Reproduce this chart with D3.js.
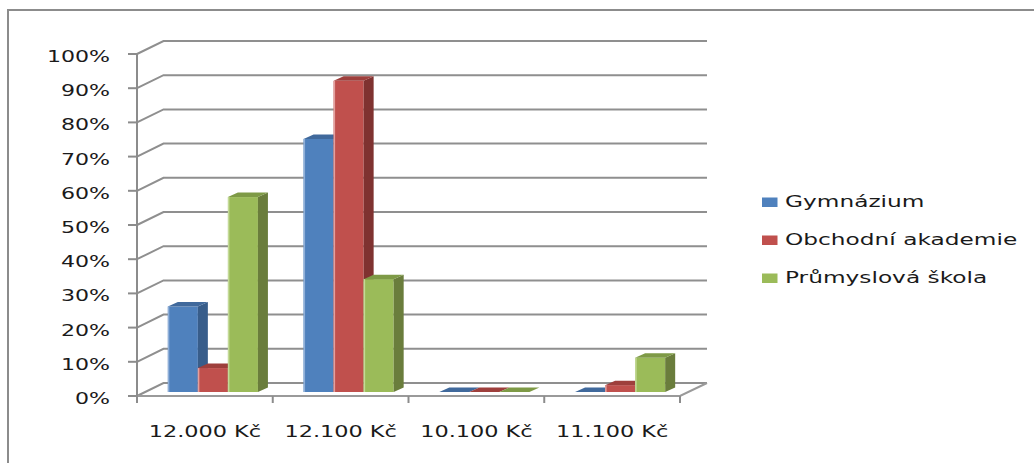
<!DOCTYPE html>
<html>
<head>
<meta charset="utf-8">
<script src="https://cdn.jsdelivr.net/npm/d3@7"></script>
<style>
  html, body { margin: 0; padding: 0; background: #fff; }
  svg { display: block; }
  text { font-family: "DejaVu Sans", sans-serif; fill: #1a1a1a; }
</style>
</head>
<body>
<svg id="chart" width="1034" height="463"></svg>
<script>
// Salary categories and the share of graduates per school type
const categories = ["12.000 Kč", "12.100 Kč", "10.100 Kč", "11.100 Kč"];
const seriesNames = ["Gymnázium", "Obchodní akademie", "Průmyslová škola"];
const gymnazium = [0.25, 0.74, 0, 0];
const obchodni = [0.07, 0.91, 0, 0.02];
const prumyslova = [0.57, 0.33, 0, 0.10];
const yTicks = [0, 0.1, 0.2, 0.3, 0.4, 0.5, 0.6, 0.7, 0.8, 0.9, 1.0];

const seriesValues = [gymnazium, obchodni, prumyslova];
const colors = {
  front: ["#4F81BD", "#C0504D", "#9BBB59"],
  side:  ["#385D8A", "#7F3230", "#6A7D3C"],
  top:   ["#40699C", "#9E3F3C", "#7E9A46"],
  edge:  ["#8FAFD8", "#E3A09E", "#C4DA98"]
};

const svg = d3.select("#chart");

// Frame of the chart area (top and left edges)
svg.append("path")
  .attr("d", "M8,463 L8,10 L1034,10")
  .attr("fill", "none")
  .attr("stroke", "#8c8c8c")
  .attr("stroke-width", 2);

// Front plane geometry and perspective offset toward the back wall
const frontLeft = 137, frontRight = 680;
const yScale = d3.scaleLinear().domain([0, 1]).range([396, 54]);
const wallDx = 26.5, wallDy = -13;
const backRight = 707;

const xCat = d3.scaleBand().domain(categories).range([frontLeft, frontRight]).padding(0);
const xSer = d3.scaleBand().domain(seriesNames).range([0, xCat.bandwidth()])
  .paddingInner(0).paddingOuter(0.76);

const grid = svg.append("g");
// Gridlines: side wall diagonal + back wall horizontal
yTicks.forEach(t => {
  const y = yScale(t);
  grid.append("path")
    .attr("d", `M${frontLeft},${y} L${frontLeft + wallDx},${y + wallDy} L${backRight},${y + wallDy}`)
    .attr("fill", "none")
    .attr("stroke", "#8f8f8f")
    .attr("stroke-width", 2);
});

// Floor front edge and its right-hand diagonal
grid.append("path")
  .attr("d", `M${frontLeft},${yScale(0)} L${frontRight},${yScale(0)} L${backRight},${yScale(0) + wallDy}`)
  .attr("fill", "none")
  .attr("stroke", "#9a9a9a")
  .attr("stroke-width", 2);

// Vertical value axis with tick marks and labels
const axisG = svg.append("g");
axisG.append("line")
  .attr("x1", frontLeft).attr("x2", frontLeft)
  .attr("y1", yScale(1)).attr("y2", yScale(0))
  .attr("stroke", "#8c8c8c").attr("stroke-width", 2);
yTicks.forEach(t => {
  const y = yScale(t);
  axisG.append("line")
    .attr("x1", frontLeft - 9).attr("x2", frontLeft)
    .attr("y1", y).attr("y2", y)
    .attr("stroke", "#8c8c8c").attr("stroke-width", 2);
  axisG.append("text")
    .attr("transform", `translate(110,${y + 8}) scale(1.38,1)`)
    .attr("text-anchor", "end")
    .attr("font-size", 16)
    .text(d3.format(".0%")(t));
});

// Category axis tick marks and labels
const catG = svg.append("g");
categories.concat([null]).forEach((c, i) => {
  const x = c ? xCat(c) : frontRight;
  catG.append("line")
    .attr("x1", x).attr("x2", x)
    .attr("y1", yScale(0)).attr("y2", yScale(0) + 7)
    .attr("stroke", "#8c8c8c").attr("stroke-width", 2);
});
categories.forEach(c => {
  catG.append("text")
    .attr("transform", `translate(${xCat(c) + xCat.bandwidth() / 2},437) scale(1.4,1)`)
    .attr("text-anchor", "middle")
    .attr("font-size", 16)
    .text(c);
});

// 3D columns: front face, right side and top, set slightly back from the floor edge
const setDx = 8, setDy = -4;
const barDx = 10, barDy = -4.5;
const barsG = svg.append("g");
categories.forEach((c, ci) => {
  seriesNames.forEach((s, si) => {
    const v = seriesValues[si][ci];
    const x0 = xCat(c) + xSer(s) + setDx;
    const w = xSer.bandwidth();
    const yb = yScale(0) + setDy;
    const yt = yScale(v) + setDy;
    const g = barsG.append("g");
    g.append("rect")
      .attr("x", x0).attr("y", yt)
      .attr("width", w).attr("height", yb - yt)
      .attr("fill", colors.front[si]);
    g.append("polygon")
      .attr("points", [[x0 + w, yb], [x0 + w, yt], [x0 + w + barDx, yt + barDy], [x0 + w + barDx, yb + barDy]].join(" "))
      .attr("fill", colors.side[si]);
    g.append("polygon")
      .attr("points", [[x0, yt], [x0 + w, yt], [x0 + w + barDx, yt + barDy], [x0 + barDx, yt + barDy]].join(" "))
      .attr("fill", colors.top[si]);
    if (yb - yt > 2) {
      g.append("line")
        .attr("x1", x0 + 0.75).attr("x2", x0 + 0.75)
        .attr("y1", yt).attr("y2", yb)
        .attr("stroke", colors.edge[si]).attr("stroke-width", 1.5);
    }
  });
});

// Legend
const legendG = svg.append("g");
seriesNames.forEach((s, i) => {
  const y = 207 + i * 38;
  legendG.append("rect")
    .attr("x", 762).attr("y", y - 9.5)
    .attr("width", 15.5).attr("height", 9.5)
    .attr("fill", colors.front[i]);
  legendG.append("text")
    .attr("transform", `translate(785,${y}) scale(1.41,1)`)
    .attr("font-size", 16.5)
    .text(s);
});
</script>
</body>
</html>
